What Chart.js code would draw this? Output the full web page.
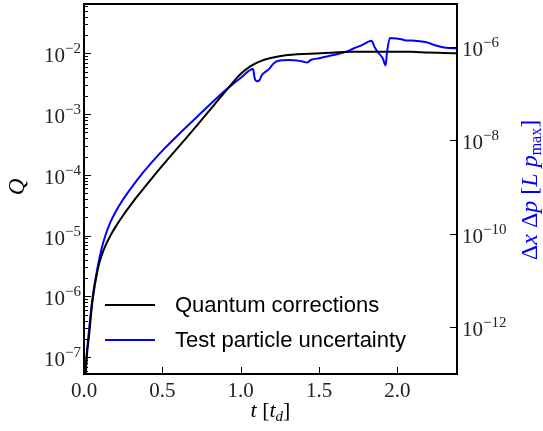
<!DOCTYPE html>
<html lang="en">
<head>
<meta charset="UTF-8">
<title>Quantum corrections</title>
<script src="https://cdn.jsdelivr.net/npm/chart.js"></script>
<style>
    html, body { margin: 0; padding: 0; background: #fff; }
    #caixa { width: 543px; height: 431px; }
</style>
</head>
<body>
<div id="caixa"><canvas id="grafico" width="543" height="431"></canvas></div>

<script>
    // dados
    const tempoQ = [0.004, 0.012, 0.034, 0.055, 0.087, 0.112, 0.138, 0.170, 0.202, 0.246, 0.291, 0.342,
        0.425, 0.508, 0.617, 0.725, 0.827, 0.936, 0.999, 1.063, 1.127, 1.191, 1.299, 1.510, 1.720,
        2.084, 2.148, 2.38];
    const valoresQ = [1e-8, 5.52e-8, 2.51e-7, 8.77e-7, 2.73e-6, 4.71e-6, 6.98e-6, 1.02e-5, 1.41e-5, 2.09e-5, 3.03e-5, 4.5e-5,
        8.3e-5, 1.5e-4, 3.18e-4, 6.7e-4, 1.38e-3, 3.0e-3, 4.55e-3, 6.16e-3, 7.44e-3, 8.34e-3, 9.38e-3, 1.0e-2, 1.06e-2,
        1.06e-2, 1.04e-2, 1.0e-2];

    const tempoIncerteza = [0.004, 0.012, 0.034, 0.055, 0.087, 0.112, 0.138, 0.170, 0.202, 0.246, 0.291, 0.342,
        0.425, 0.508, 0.617, 0.725, 0.853, 0.936, 0.999, 1.079, 1.089, 1.105, 1.121, 1.134, 1.153, 1.178,
        1.210, 1.236, 1.312, 1.357, 1.395, 1.424, 1.450, 1.503, 1.567, 1.631, 1.694, 1.713, 1.777, 1.834,
        1.854, 1.876, 1.906, 1.924, 1.933, 1.952, 1.994, 2.032, 2.057, 2.089, 2.140, 2.185, 2.246, 2.310, 2.38];
    const valoresIncerteza = [3e-14, 1.39e-13, 1.0e-12, 4.38e-12, 1.92e-11, 4.75e-11, 9.46e-11, 1.8e-10, 2.94e-10, 5.18e-10, 8.51e-10, 1.45e-9,
        3.13e-9, 6.32e-9, 1.46e-8, 3.23e-8, 8.24e-8, 1.44e-7, 2.12e-7, 3.30e-7, 2.09e-7, 1.8e-7, 1.94e-7, 2.42e-7, 2.8e-7, 3.24e-7,
        4.35e-7, 4.9e-7, 5.16e-7, 5.04e-7, 4.8e-7, 4.57e-7, 5.21e-7, 5.63e-7, 6.34e-7, 7.1e-7, 8.2e-7, 8.85e-7, 1.087e-6, 1.33e-6,
        9.76e-7, 7.45e-7, 5.63e-7, 3.95e-7, 7.27e-7, 1.52e-6, 1.48e-6, 1.41e-6, 1.34e-6, 1.34e-6, 1.30e-6, 1.23e-6, 1.05e-6, 9.4e-7, 9.1e-7];

    const ticksX = [0, 0.5, 1, 1.5, 2];
    const expoentesQ = [-7, -6, -5, -4, -3, -2];
    const expoentesIncerteza = [-12, -10, -8, -6];
    const nomes = ['Quantum corrections', 'Test particle uncertainty'];
    const cores = ['#000000', '#0000ff'];

    const SERIF = '"Liberation Serif", "DejaVu Serif", serif';
    const SANS = '"Liberation Sans", "DejaVu Sans", sans-serif';

    function pares(xs, ys) {
        return xs.map((x, i) => ({ x: x, y: ys[i] }));
    }

    // texto com pedaços em italico, subscrito e sobrescrito
    function textoRico(ctx, pedacos, x, y, alinhar) {
        let total = 0;
        for (const p of pedacos) {
            ctx.font = (p.it ? 'italic ' : '') + p.tam + 'px ' + SERIF;
            p.w = ctx.measureText(p.t).width;
            total += p.w;
        }
        let cx = alinhar === 'center' ? x - total / 2 : (alinhar === 'right' ? x - total : x);
        ctx.textAlign = 'left';
        ctx.textBaseline = 'alphabetic';
        for (const p of pedacos) {
            ctx.font = (p.it ? 'italic ' : '') + p.tam + 'px ' + SERIF;
            ctx.fillText(p.t, cx, y + (p.dy || 0));
            cx += p.w;
        }
    }

    function potencia(e) {
        return [
            { t: '10', tam: 21 },
            { t: '\u2212' + Math.abs(e), tam: 15, dy: -9 }
        ];
    }

    const moldura = {
        id: 'moldura',
        afterDraw(chart) {
            const ctx = chart.ctx;
            const area = chart.chartArea;
            const sx = chart.scales.x;
            const sy = chart.scales.y;
            const sy2 = chart.scales.y2;
            ctx.save();

            ctx.strokeStyle = '#000';
            ctx.lineWidth = 2;
            ctx.strokeRect(area.left, area.top, area.right - area.left, area.bottom - area.top);

            ctx.lineWidth = 1;
            ctx.beginPath();
            for (const v of ticksX) {
                const px = Math.round(sx.getPixelForValue(v)) + 0.5;
                ctx.moveTo(px, area.bottom);
                ctx.lineTo(px, area.bottom - 7);
            }
            for (let e = -8; e <= -1; e++) {
                for (let m = 1; m <= 9; m++) {
                    const v = m * Math.pow(10, e);
                    if (v < sy.min || v > sy.max) continue;
                    const py = Math.round(sy.getPixelForValue(v)) + 0.5;
                    ctx.moveTo(area.left, py);
                    ctx.lineTo(area.left + (m === 1 ? 7 : 4), py);
                }
            }
            for (const e of expoentesIncerteza) {
                const py = Math.round(sy2.getPixelForValue(Math.pow(10, e))) + 0.5;
                ctx.moveTo(area.right, py);
                ctx.lineTo(area.right - 7, py);
            }
            ctx.stroke();

            ctx.fillStyle = '#222';
            ctx.font = '21px ' + SERIF;
            ctx.textAlign = 'center';
            ctx.textBaseline = 'alphabetic';
            for (const v of ticksX) {
                ctx.fillText(v.toFixed(1), sx.getPixelForValue(v), area.bottom + 23);
            }
            for (const e of expoentesQ) {
                const py = sy.getPixelForValue(Math.pow(10, e));
                textoRico(ctx, potencia(e), area.left - 3, py + 9, 'right');
            }
            for (const e of expoentesIncerteza) {
                const py = sy2.getPixelForValue(Math.pow(10, e));
                textoRico(ctx, potencia(e), area.right + 5, py + 9, 'left');
            }

            // titulos dos eixos
            ctx.fillStyle = '#000';
            textoRico(ctx, [
                { t: 't', tam: 22, it: true },
                { t: ' [', tam: 22 },
                { t: 't', tam: 22, it: true },
                { t: 'd', tam: 15, it: true, dy: 4 },
                { t: ']', tam: 22 }
            ], (area.left + area.right) / 2, 417, 'center');

            ctx.save();
            ctx.translate(24, 187);
            ctx.rotate(-Math.PI / 2);
            textoRico(ctx, [{ t: 'Q', tam: 23, it: true }], 0, 0, 'center');
            ctx.restore();

            ctx.save();
            ctx.fillStyle = '#0000ff';
            ctx.translate(537, 190);
            ctx.rotate(-Math.PI / 2);
            textoRico(ctx, [
                { t: '\u0394', tam: 24 },
                { t: 'x', tam: 24, it: true },
                { t: ' \u0394', tam: 24 },
                { t: 'p', tam: 24, it: true },
                { t: ' [', tam: 24 },
                { t: 'L', tam: 24, it: true },
                { t: ' ', tam: 24 },
                { t: 'p', tam: 24, it: true },
                { t: 'max', tam: 16, dy: 4 },
                { t: ']', tam: 24 }
            ], 0, 0, 'center');
            ctx.restore();

            // legenda
            chart.data.datasets.forEach((ds, i) => {
                const ly = 305 + i * 35;
                ctx.strokeStyle = ds.borderColor;
                ctx.lineWidth = 2;
                ctx.beginPath();
                ctx.moveTo(105, ly);
                ctx.lineTo(155, ly);
                ctx.stroke();
                ctx.fillStyle = '#000';
                ctx.font = '22px ' + SANS;
                ctx.textAlign = 'left';
                ctx.textBaseline = 'middle';
                ctx.fillText(ds.label, 175, ly + 1);
            });

            ctx.restore();
        }
    };

    const grafico = new Chart(document.getElementById('grafico').getContext('2d'), {
        type: 'line',
        data: {
            datasets: [{
                label: nomes[0],
                data: pares(tempoQ, valoresQ),
                borderColor: cores[0],
                borderWidth: 2,
                yAxisID: 'y',
                pointRadius: 0,
                cubicInterpolationMode: 'monotone',
                fill: false
            }, {
                label: nomes[1],
                data: pares(tempoIncerteza, valoresIncerteza),
                borderColor: cores[1],
                borderWidth: 2,
                yAxisID: 'y2',
                pointRadius: 0,
                cubicInterpolationMode: 'monotone',
                fill: false
            }]
        },
        options: {
            responsive: false,
            animation: false,
            devicePixelRatio: 1,
            layout: { padding: { top: 4, left: 0, right: 0, bottom: 0 } },
            plugins: {
                legend: { display: false },
                tooltip: { enabled: false },
                title: { display: false }
            },
            scales: {
                x: {
                    type: 'linear',
                    min: 0,
                    max: 2.38,
                    grid: { display: false },
                    border: { display: false },
                    ticks: { display: false },
                    afterBuildTicks: (s) => { s.ticks = ticksX.map(v => ({ value: v })); },
                    afterFit: (s) => { s.height = 57; }
                },
                y: {
                    type: 'logarithmic',
                    position: 'left',
                    min: 5.31e-8,
                    max: 6.47e-2,
                    grid: { display: false },
                    border: { display: false },
                    ticks: { display: false },
                    afterFit: (s) => { s.width = 84; }
                },
                y2: {
                    type: 'logarithmic',
                    position: 'right',
                    min: 1e-13,
                    max: 8.1e-6,
                    grid: { display: false },
                    border: { display: false },
                    ticks: { display: false },
                    afterFit: (s) => { s.width = 86; }
                }
            }
        },
        plugins: [moldura]
    });
</script>
</body>
</html>
